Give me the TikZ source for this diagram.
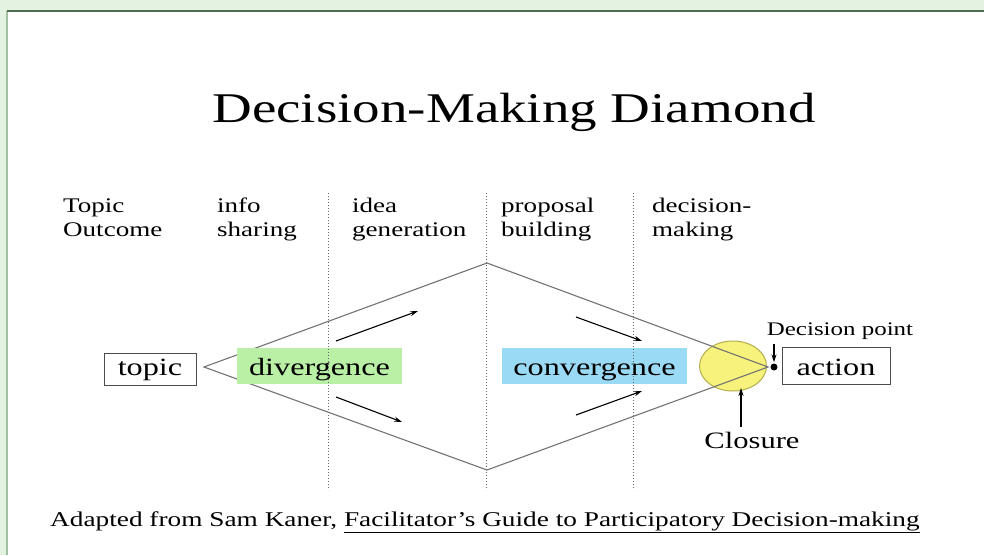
\documentclass[tikz,border=0pt]{standalone}
\usepackage{fontspec}
\setmainfont[FakeStretch=1.3]{Liberation Serif}
\usepackage{tikz}
\usetikzlibrary{arrows.meta,shapes.geometric}
\definecolor{pagebg}{HTML}{E3F2E1}
\definecolor{framedark}{HTML}{4F6B4F}
\definecolor{framelight}{HTML}{A3BFA3}
\definecolor{divgreen}{HTML}{B9F0A6}
\definecolor{convblue}{HTML}{9ADAF4}
\definecolor{bubfill}{HTML}{F6F27C}
\definecolor{bubline}{HTML}{B3AE4A}

\begin{document}
\begin{tikzpicture}[x=1pt,y=-1pt]
\tikzstyle{stage}=[anchor=base west,align=left,inner sep=0,font=\fontsize{20.8}{23.5}\selectfont]
\tikzstyle{endbox}=[draw=black!70,line width=1pt,anchor=base,inner xsep=0,inner ysep=0,font=\fontsize{24.8}{28}\selectfont]
\tikzstyle{phase}=[anchor=base,inner xsep=0,inner ysep=0,text height=27pt,text depth=9pt,font=\fontsize{24.8}{28}\selectfont]
\tikzstyle{edge}=[draw=black!55,line width=1.1pt]
\tikzstyle{divider}=[draw=black!60,line width=0.9pt,dash pattern=on 1.4pt off 1.6pt]
\tikzstyle{flow}=[draw=black,line width=1.1pt,-{Stealth[length=8pt,width=5pt]}]
\useasboundingbox (0,0) rectangle (984,555);
% page and frame
\fill[pagebg] (0,0) rectangle (984,555);
\fill[white] (7,11) rectangle (984,555);
\draw[framelight,line width=1.5pt] (7,555) -- (7,11);
\draw[framedark,line width=1.6pt] (7,11) -- (984,11);
% title
\node[anchor=base,font=\fontsize{42.3}{50}\selectfont] (title) at (514,122) {Decision-Making Diamond};
% stage headings
\node[stage] (hTopic) at (63,236) {Topic\\Outcome};
\node[stage] (hInfo) at (217,236) {info\\sharing};
\node[stage] (hIdea) at (352,236) {idea\\generation};
\node[stage] (hProp) at (501,236) {proposal\\building};
\node[stage] (hDec) at (652,236) {decision-\\making};
% the diamond
\coordinate (ltip) at (204,367);
\coordinate (top) at (487,263);
\coordinate (bot) at (487,470);
\coordinate (rtip) at (768,367);
\node[ellipse,fill=bubfill,draw=bubline,line width=1pt,minimum width=67pt,minimum height=50pt,inner sep=0] (closurebub) at (733,366) {};
\path[edge] (ltip) -- (top) -- (rtip) -- (bot) -- cycle;
% boxes
\node[endbox,minimum width=92pt,text height=22pt,text depth=10pt] (topic) at (150,375) {topic};
\node[phase,fill=divgreen,minimum width=165pt] (divergence) at (319.5,375) {divergence};
\node[phase,fill=convblue,minimum width=185pt] (convergence) at (594.5,375) {convergence};
\node[endbox,minimum width=108pt,text height=28pt,text depth=9pt] (action) at (836,375) {action};
% stage dividers
\foreach \x/\n in {328/a,486/b,633/c}{
  \coordinate (div\n top) at (\x,193);
  \coordinate (div\n bot) at (\x,490);
  \path[divider] (div\n top) -- (div\n bot);
}
% divergence and convergence arrows
\coordinate (dvA) at (336,341);
\coordinate (dvB) at (418,311);
\coordinate (dvC) at (336,397);
\coordinate (dvD) at (402,422);
\coordinate (cvA) at (576,317);
\coordinate (cvB) at (642,341);
\coordinate (cvC) at (576,415);
\coordinate (cvD) at (642,391);
\path[flow] (dvA) -- (dvB);
\path[flow] (dvC) -- (dvD);
\path[flow] (cvA) -- (cvB);
\path[flow] (cvC) -- (cvD);
% decision point and closure
\node[circle,fill=black,inner sep=0,minimum size=7pt] (dpoint) at (774,367) {};
\node[anchor=base,inner sep=0,font=\fontsize{19.2}{22}\selectfont] (dplabel) at (840,335) {Decision point};
\coordinate (dparrow) at (774,344);
\path[flow,shorten >=1pt] (dparrow) -- (dpoint.north);
\node[anchor=base,inner sep=0,font=\fontsize{23.5}{27}\selectfont] (closure) at (752,448) {Closure};
\coordinate (clfoot) at (741,427);
\path[flow] (clfoot) -- (741,388);
% credit line
\node[anchor=base west,inner sep=0,font=\fontsize{21}{24}\selectfont] (credit) at (50,526) {Adapted from Sam Kaner, \underline{Facilitator's Guide to Participatory Decision-making}};
\end{tikzpicture}
\end{document}
